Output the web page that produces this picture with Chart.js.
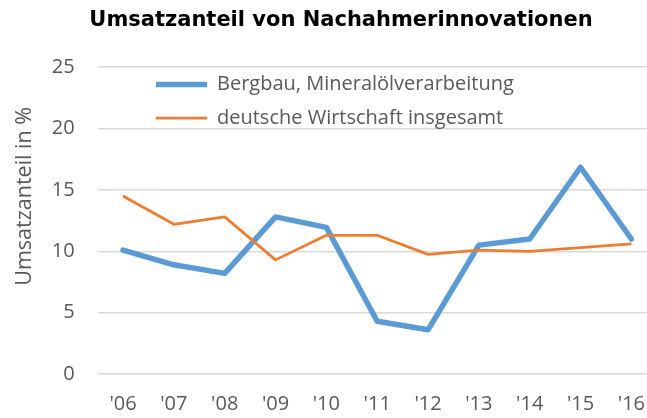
<!DOCTYPE html>
<html><head><meta charset="utf-8">
<script src="https://cdn.jsdelivr.net/npm/chart.js@4/dist/chart.umd.min.js"></script>
<style>html,body{margin:0;padding:0;overflow:hidden;background:#fff}</style>
</head><body>
<canvas id="c" width="663" height="418"></canvas>
<script>
const categories = ["'06","'07","'08","'09","'10","'11","'12","'13","'14","'15","'16"];
const bergbau = [10.1, 8.9, 8.2, 12.8, 11.95, 4.3, 3.6, 10.5, 11.0, 16.85, 11.0];
const gesamt = [14.5, 12.2, 12.8, 9.3, 11.3, 11.3, 9.75, 10.1, 10.0, 10.3, 10.6];
const seriesNames = ["Bergbau, Mineralölverarbeitung", "deutsche Wirtschaft insgesamt"];
const yTickValues = [0, 5, 10, 15, 20, 25];
const chartTitle = "Umsatzanteil von Nachahmerinnovationen";
const yTitle = "Umsatzanteil in %";

const FONT = "Open Sans";
const legendShift = {
  id: 'legendShift',
  afterLayout(chart) {
    const l = chart.legend;
    const ca = chart.chartArea;
    l.left = ca.left + 45;
    l.top = ca.top - 6;
  }
};

new Chart(document.getElementById('c'), {
  type: 'line',
  data: {
    labels: categories,
    datasets: [
      { label: seriesNames[0], data: bergbau, borderColor: '#5B9BD5', backgroundColor: '#5B9BD5',
        borderWidth: 5.5, pointRadius: 0, tension: 0, borderJoinStyle: 'round', borderCapStyle: 'round', order: 1 },
      { label: seriesNames[1], data: gesamt, borderColor: '#ED7D31', backgroundColor: '#ED7D31',
        borderWidth: 2.75, pointRadius: 0, tension: 0, borderJoinStyle: 'round', borderCapStyle: 'butt', order: 0 }
    ]
  },
  options: {
    responsive: false,
    animation: false,
    devicePixelRatio: 1,
    layout: { padding: { left: 19, right: 0, top: 0, bottom: 0 } },
    plugins: {
      title: {
        display: true, text: chartTitle, color: '#000',
        font: { family: 'DejaVu Sans', size: 21, weight: 'bold', lineHeight: 1.2 },
        padding: { top: 8, bottom: 34 }
      },
      legend: {
        position: 'chartArea', align: 'start',
        labels: {
          usePointStyle: true, pointStyle: 'line', pointStyleWidth: 51,
          color: '#595959', font: { family: FONT, size: 20 }, padding: 13.4,
          sort: (a, b) => a.datasetIndex - b.datasetIndex
        }
      },
      tooltip: { enabled: false }
    },
    scales: {
      x: {
        offset: true,
        afterFit(scale) { scale.height = 44; },
        grid: { display: false, drawTicks: false },
        border: { display: false },
        ticks: { color: '#595959', font: { family: FONT, size: 20 }, padding: 18, maxRotation: 0, autoSkip: false }
      },
      y: {
        min: 0, max: 25,
        afterFit(scale) { scale.width = 78.6; },
        afterBuildTicks(scale) { scale.ticks = yTickValues.map(v => ({ value: v })); },
        grid: { color: '#d9d9d9', lineWidth: 1.5, drawTicks: false },
        border: { display: false },
        ticks: { color: '#595959', font: { family: FONT, size: 20 }, padding: 23 },
        title: {
          display: true, text: '\u2002\u2002\u2002\u2002 ' + yTitle, color: '#595959',
          font: { family: FONT, size: 21.5, lineHeight: 1.2 }, padding: { top: -7, bottom: 0 }
        }
      }
    }
  },
  plugins: [legendShift]
});
</script>
</body></html>
